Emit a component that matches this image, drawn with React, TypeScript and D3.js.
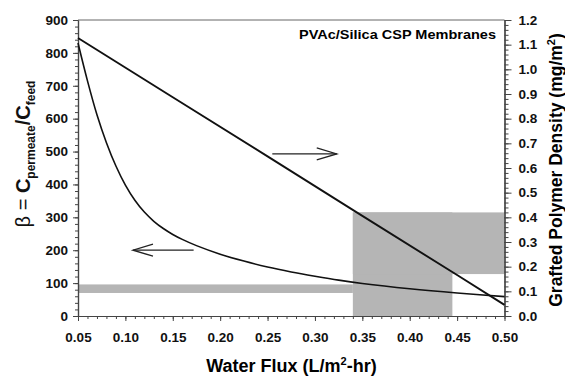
import React, { useEffect, useRef } from 'react'
import * as d3 from 'd3'

// selectivity curve, left axis
const fluxBeta = [0.05, 0.06, 0.07, 0.08, 0.09, 0.10, 0.11, 0.12, 0.13, 0.14, 0.15, 0.16, 0.175, 0.20, 0.225, 0.25, 0.275, 0.30, 0.325, 0.35, 0.40, 0.45, 0.50]
const beta = [830, 715, 612, 527, 456, 398, 352, 316, 288, 266, 248, 233, 214, 188, 167, 149, 134, 121, 109, 99, 83, 70, 59]

// grafted polymer density line, right axis
const fluxDensity = [0.05, 0.15, 0.25, 0.35, 0.45, 0.50]
const density = [1.127, 0.887, 0.647, 0.406, 0.166, 0.045]

const xTicks = [0.05, 0.10, 0.15, 0.20, 0.25, 0.30, 0.35, 0.40, 0.45, 0.50]
const betaTicks = [0, 100, 200, 300, 400, 500, 600, 700, 800, 900]
const densityTicks = [0, 0.1, 0.2, 0.3, 0.4, 0.5, 0.6, 0.7, 0.8, 0.9, 1.0, 1.1, 1.2]

// grey boxes: flux range, which axis, low/high value
const shadeFlux = [[0.05, 0.34], [0.34, 0.445], [0.34, 0.50]]
const shadeAxis = ['beta', 'density', 'density']
const shadeLow = [70, 0, 0.17]
const shadeHigh = [96, 0.42, 0.42]

// arrows: from/to flux, axis, level
const arrowFlux = [[0.172, 0.108], [0.255, 0.323]]
const arrowAxis = ['beta', 'density']
const arrowLevel = [200, 0.657]

const FONT = '"Liberation Sans", Arial, sans-serif'

function App() {
  let svgRef = useRef<SVGSVGElement>(null)

  useEffect(() => {
    const width = 565
    const height = 377
    const left = 78, right = 504.5, top = 20, bottom = 316

    const svg = d3.select(svgRef.current)
    svg.selectAll('*').remove()
    svg.attr('width', width).attr('height', height)
      .style('background', '#fff')

    const x = d3.scaleLinear().domain([0.05, 0.5]).range([left, right])
    const yB = d3.scaleLinear().domain([0, 900]).range([bottom, top])
    const yD = d3.scaleLinear().domain([0, 1.2]).range([bottom, top])
    const yOf = (axis: string) => (axis === 'beta' ? yB : yD)

    //shaded ranges
    shadeFlux.forEach((f, i) => {
      const ys = yOf(shadeAxis[i])
      svg.append('rect')
        .attr('x', x(f[0]))
        .attr('width', x(f[1]) - x(f[0]))
        .attr('y', ys(shadeHigh[i]))
        .attr('height', ys(shadeLow[i]) - ys(shadeHigh[i]))
        .attr('fill', '#b5b5b5')
    })

    //top frame
    svg.append('line')
      .attr('x1', left).attr('x2', right).attr('y1', top).attr('y2', top)
      .attr('stroke', '#666').attr('stroke-width', 1)

    const styleAxis = (g: any) => {
      g.select('.domain').attr('stroke', '#444').attr('stroke-width', 1.2)
      g.selectAll('.tick line').attr('stroke', '#444')
      g.selectAll('.tick text')
        .attr('font-family', FONT).attr('font-weight', 'bold')
        .attr('font-size', 13.5).attr('fill', '#111')
    }

    //minor ticks
    svg.append('g').attr('transform', `translate(${left},0)`)
      .call(d3.axisLeft(yB).tickValues(d3.range(0, 901, 20)).tickSize(3).tickSizeOuter(0).tickFormat(() => ''))
      .call(styleAxis)
    svg.append('g').attr('transform', `translate(${right},0)`)
      .call(d3.axisRight(yD).tickValues(d3.range(0, 1.201, 0.02)).tickSize(4).tickSizeOuter(0).tickFormat(() => ''))
      .call(styleAxis)
    svg.append('g').attr('transform', `translate(0,${bottom})`)
      .call(d3.axisBottom(x).tickValues(d3.range(0.05, 0.501, 0.01)).tickSize(3).tickSizeOuter(0).tickFormat(() => ''))
      .call(styleAxis)

    //major axes
    svg.append('g').attr('transform', `translate(${left},0)`)
      .call(d3.axisLeft(yB).tickValues(betaTicks).tickSize(5).tickPadding(5).tickSizeOuter(0).tickFormat(d3.format('d')))
      .call(styleAxis)
    svg.append('g').attr('transform', `translate(${right},0)`)
      .call(d3.axisRight(yD).tickValues(densityTicks).tickSize(7).tickPadding(7).tickSizeOuter(0).tickFormat(d3.format('.1f')))
      .call(styleAxis)
    svg.append('g').attr('transform', `translate(0,${bottom})`)
      .call(d3.axisBottom(x).tickValues(xTicks).tickSize(5).tickPadding(11).tickSizeOuter(0).tickFormat(d3.format('.2f')))
      .call(styleAxis)

    //curves
    const betaLine = d3.line<number>()
      .x((d, i) => x(fluxBeta[i]))
      .y((d) => yB(d))
      .curve(d3.curveCatmullRom)
    svg.append('path')
      .datum(beta)
      .attr('d', betaLine)
      .attr('fill', 'none').attr('stroke', '#111').attr('stroke-width', 1.6)

    const densityLine = d3.line<number>()
      .x((d, i) => x(fluxDensity[i]))
      .y((d) => yD(d))
    svg.append('path')
      .datum(density)
      .attr('d', densityLine)
      .attr('fill', 'none').attr('stroke', '#111').attr('stroke-width', 1.9)

    //arrows
    arrowFlux.forEach((f, i) => {
      const ys = yOf(arrowAxis[i])
      const y0 = ys(arrowLevel[i])
      const x0 = x(f[0]), x1 = x(f[1])
      const dir = x1 > x0 ? -1 : 1
      const g = svg.append('g').attr('stroke', '#222').attr('stroke-width', 1.3).attr('fill', 'none')
      g.append('line').attr('x1', x0).attr('x2', x1).attr('y1', y0).attr('y2', y0)
      g.append('path').attr('d', `M${x1 + dir * 20},${y0 - 6}L${x1},${y0}L${x1 + dir * 20},${y0 + 6}`)
    })

    //labels
    svg.append('text')
      .attr('x', 496).attr('y', 39)
      .attr('text-anchor', 'end')
      .attr('font-family', FONT).attr('font-weight', 'bold').attr('font-size', 13.5)
      .attr('textLength', 197).attr('lengthAdjust', 'spacingAndGlyphs')
      .text('PVAc/Silica CSP Membranes')

    const xt = svg.append('text')
      .attr('x', 291.5).attr('y', 372)
      .attr('text-anchor', 'middle')
      .attr('font-family', FONT).attr('font-weight', 'bold').attr('font-size', 18)
    xt.append('tspan').text('Water Flux (L/m')
    xt.append('tspan').attr('font-size', 11).attr('dy', -7).text('2')
    xt.append('tspan').attr('dy', 7).text('-hr)')

    const rt = svg.append('text')
      .attr('transform', 'translate(562,170) rotate(-90)')
      .attr('text-anchor', 'middle')
      .attr('font-family', FONT).attr('font-weight', 'bold').attr('font-size', 17.5)
    rt.append('tspan').text('Grafted Polymer Density (mg/m')
    rt.append('tspan').attr('font-size', 11).attr('dy', -7).text('2')
    rt.append('tspan').attr('dy', 7).text(')')

    const lt = svg.append('text')
      .attr('transform', 'translate(30,154) rotate(-90)')
      .attr('text-anchor', 'middle')
      .attr('font-family', FONT).attr('font-size', 20).attr('fill', '#111')
    lt.append('tspan').text('\u03b2 = ')
    lt.append('tspan').attr('font-weight', 'bold').text('C')
    lt.append('tspan').attr('font-weight', 'bold').attr('font-size', 12).attr('dy', 5).text('permeate')
    lt.append('tspan').attr('font-weight', 'bold').attr('dy', -5).text('/C')
    lt.append('tspan').attr('font-weight', 'bold').attr('font-size', 12).attr('dy', 5).text('feed')
  }, [])

  return (
    <svg ref={svgRef} style={{ position: 'absolute', left: 0, top: 0 }}></svg>
  )
}

export default App
